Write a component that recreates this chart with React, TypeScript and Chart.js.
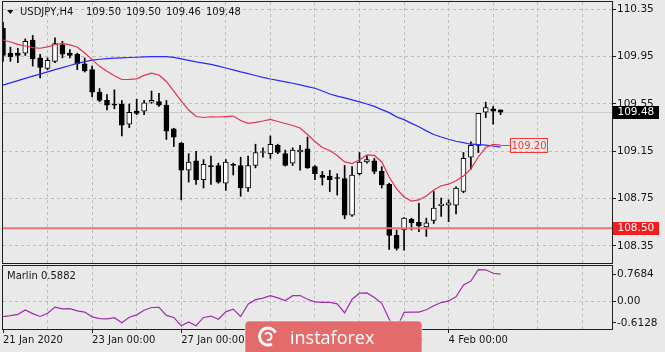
import { useEffect, useRef } from 'react';
import { Chart, registerables } from 'chart.js';
Chart.register(...registerables);

// ---------- data ----------
const symbolTitle = 'USDJPY,H4';
const titleQuote = ['109.50', '109.50', '109.46', '109.48'];
const indicatorTitle = 'Marlin 0.5882';

// bar slots: 68 H4 bars + empty future space on the right
const slotLabels = Array.from({ length: 83 }, (_, i) => String(i));
const barsPerDay = 6;
const timeLabelIdx = [0, 12, 24, 36, 48, 60];
const timeLabelText = ['21 Jan 2020', '23 Jan 00:00', '27 Jan 00:00', '29 Jan 00:00', '31 Jan 00:00', '4 Feb 00:00'];

const opens = [110.19, 109.98, 109.98, 109.98, 110.09, 109.94, 109.85, 109.91, 110.05, 109.98,
  109.97, 109.89, 109.84, 109.65, 109.58, 109.545, 109.55, 109.38, 109.49, 109.49,
  109.565, 109.57, 109.54, 109.34, 109.22, 108.99, 109.07, 108.91, 109.03, 109.03,
  108.88, 109.04, 109.03, 108.84, 109.03, 109.14, 109.13, 109.20, 109.13, 109.05,
  109.145, 109.17, 109.02, 108.95, 108.94, 108.925, 108.92, 108.61, 108.96, 109.06,
  109.07, 108.98, 108.87, 108.44, 108.485, 108.575, 108.55, 108.51, 108.565, 108.69,
  108.695, 108.695, 108.81, 109.10, 109.20, 109.48, 109.51, 109.50];
const highs = [110.24, 110.03, 110.02, 110.10, 110.13, 109.97, 109.94, 110.11, 110.08, 110.01,
  109.98, 109.94, 109.87, 109.68, 109.63, 109.67, 109.58, 109.55, 109.59, 109.58,
  109.66, 109.64, 109.58, 109.345, 109.225, 109.13, 109.15, 109.08, 109.11, 109.05,
  109.08, 109.05, 109.10, 109.11, 109.21, 109.18, 109.28, 109.21, 109.16, 109.18,
  109.20, 109.27, 109.03, 108.98, 108.99, 108.96, 109.03, 109.02, 109.14, 109.11,
  109.09, 109.02, 108.88, 108.485, 108.59, 108.585, 108.71, 108.585, 108.81, 108.755,
  108.74, 108.85, 109.14, 109.23, 109.47, 109.565, 109.53, 109.50];
const lows = [109.91, 109.91, 109.90, 109.96, 109.87, 109.77, 109.84, 109.90, 109.94, 109.94,
  109.84, 109.82, 109.61, 109.57, 109.50, 109.51, 109.28, 109.35, 109.46, 109.46,
  109.555, 109.53, 109.25, 109.19, 108.74, 108.89, 108.87, 108.84, 108.87, 108.88,
  108.82, 108.95, 108.77, 108.81, 109.01, 109.10, 109.09, 109.13, 109.025, 109.03,
  108.99, 109.005, 108.91, 108.865, 108.81, 108.78, 108.58, 108.60, 108.95, 109.05,
  108.96, 108.84, 108.32, 108.315, 108.315, 108.485, 108.47, 108.43, 108.54, 108.60,
  108.555, 108.62, 108.80, 109.00, 109.14, 109.435, 109.38, 109.46];
const closes = [109.96, 109.95, 109.96, 110.08, 109.93, 109.86, 109.92, 110.06, 109.97, 109.96,
  109.89, 109.83, 109.65, 109.58, 109.54, 109.54, 109.37, 109.48, 109.47, 109.56,
  109.58, 109.54, 109.32, 109.27, 108.99, 109.06, 108.91, 109.04, 109.02, 108.89,
  109.06, 109.03, 108.84, 109.03, 109.14, 109.145, 109.21, 109.14, 109.03, 109.16,
  109.16, 109.01, 108.96, 108.93, 108.91, 108.92, 108.61, 108.95, 109.06, 109.08,
  108.98, 108.865, 108.44, 108.33, 108.585, 108.545, 108.52, 108.545, 108.67, 108.705,
  108.715, 108.84, 109.09, 109.20, 109.47, 109.52, 109.49, 109.48];

const maFast = [110.091, 110.074, 110.054, 110.040, 110.026, 110.021, 110.033, 110.051, 110.062, 110.049,
  110.032, 109.981, 109.925, 109.868, 109.827, 109.788, 109.757, 109.758, 109.763, 109.792,
  109.810, 109.795, 109.740, 109.658, 109.575, 109.499, 109.444, 109.436, 109.442, 109.440,
  109.444, 109.448, 109.410, 109.387, 109.394, 109.406, 109.419, 109.402, 109.385, 109.368,
  109.347, 109.292, 109.233, 109.182, 109.157, 109.115, 109.060, 109.047, 109.077, 109.119,
  109.115, 109.060, 108.933, 108.832, 108.764, 108.730, 108.739, 108.772, 108.823, 108.859,
  108.872, 108.901, 108.941, 109.001, 109.102, 109.182, 109.208, 109.203];
const maSlow = [109.710, 109.729, 109.748, 109.766, 109.785, 109.803, 109.822, 109.840, 109.857, 109.875,
  109.893, 109.908, 109.921, 109.928, 109.933, 109.938, 109.940, 109.943, 109.945, 109.948,
  109.950, 109.950, 109.950, 109.944, 109.931, 109.918, 109.906, 109.896, 109.885, 109.870,
  109.854, 109.838, 109.821, 109.806, 109.791, 109.775, 109.761, 109.749, 109.737, 109.725,
  109.711, 109.697, 109.683, 109.660, 109.634, 109.617, 109.601, 109.585, 109.568, 109.550,
  109.530, 109.502, 109.477, 109.441, 109.418, 109.386, 109.357, 109.323, 109.292, 109.271,
  109.252, 109.235, 109.223, 109.210, 109.207, 109.203, 109.195, 109.186];
const marlin = [-0.340, -0.320, -0.292, -0.197, -0.276, -0.338, -0.267, -0.133, -0.170, -0.166,
  -0.217, -0.241, -0.347, -0.385, -0.391, -0.365, -0.475, -0.354, -0.303, -0.203,
  -0.141, -0.139, -0.314, -0.360, -0.541, -0.457, -0.541, -0.360, -0.329, -0.398,
  -0.236, -0.177, -0.338, -0.069, 0.031, 0.064, 0.119, 0.069, 0.011, 0.117,
  0.122, 0.038, -0.018, -0.031, -0.031, -0.060, -0.259, 0.040, 0.172, 0.177,
  0.077, -0.049, -0.400, -0.600, -0.248, -0.243, -0.243, -0.192, -0.104, -0.033,
  0.002, 0.095, 0.351, 0.440, 0.690, 0.685, 0.610, 0.5882];

const priceTicks = [108.35, 108.75, 109.15, 109.55, 109.95, 110.35];
const priceMin = 108.206;
const priceMax = 110.412;
const bidPrice = 109.48;
const levelPrice = 108.50;
const maLabelPrice = 109.20;

const indMin = -0.6128;
const indMax = 0.7684;
const indTickLabels = ['-0.6128', '0.00', '0.7684'];

// ---------- style ----------
const BG = '#e9e9e9';
const GRID = '#bdbdbd';
const AXIS = '#1e1e1e';
const TXT = '#161616';
const FONT = '"DejaVu Sans", sans-serif';
const CLEAR = 'rgba(0,0,0,0)';

const vGrid = (c: any) => (c.index > 0 && c.index % barsPerDay === 0 ? GRID : CLEAR);

function drawPriceBox(ctx: CanvasRenderingContext2D, y: number, text: string, bg: string) {
  ctx.save();
  ctx.fillStyle = bg;
  ctx.fillRect(613, Math.round(y) - 6, 46, 13);
  ctx.fillStyle = '#ffffff';
  ctx.font = `10.5px ${FONT}`;
  ctx.textBaseline = 'middle';
  ctx.textAlign = 'left';
  ctx.fillText(text, 617.5, Math.round(y) + 0.5);
  ctx.restore();
}

const mainDecor = {
  id: 'mainDecor',
  beforeDatasetsDraw(chart: any) {
    const { ctx, chartArea: a, scales } = chart;
    const yb = Math.round(scales.y.getPixelForValue(bidPrice)) + 0.5;
    ctx.save();
    ctx.strokeStyle = '#c9c9c9';
    ctx.lineWidth = 1;
    ctx.beginPath();
    ctx.moveTo(a.left, yb);
    ctx.lineTo(a.right, yb);
    ctx.stroke();
    ctx.restore();
  },
  afterDatasetsDraw(chart: any) {
    const { ctx, chartArea: a, scales } = chart;
    const yl = scales.y.getPixelForValue(levelPrice);
    ctx.save();
    ctx.strokeStyle = '#f27272';
    ctx.lineWidth = 2;
    ctx.beginPath();
    ctx.moveTo(a.left, yl);
    ctx.lineTo(a.right, yl);
    ctx.stroke();
    // MA price label
    const xe = scales.x.getPixelForValue(maFast.length - 1);
    const ym = Math.round(scales.y.getPixelForValue(maLabelPrice)) + 0.5;
    ctx.strokeStyle = '#f03a3a';
    ctx.lineWidth = 1;
    ctx.beginPath();
    ctx.moveTo(xe, ym);
    ctx.lineTo(511, ym);
    ctx.stroke();
    ctx.strokeRect(510.5, ym - 7, 37, 14);
    ctx.fillStyle = '#f03a3a';
    ctx.font = `10px ${FONT}`;
    ctx.textBaseline = 'middle';
    ctx.textAlign = 'center';
    ctx.fillText(maLabelPrice.toFixed(2), 529, ym + 0.5);
    ctx.restore();
  },
  afterDraw(chart: any) {
    const { ctx, chartArea: a, scales } = chart;
    ctx.save();
    ctx.strokeStyle = AXIS;
    ctx.lineWidth = 1;
    ctx.strokeRect(a.left - 0.5, a.top - 0.5, a.right - a.left + 1, a.bottom - a.top + 1);
    // title
    ctx.fillStyle = TXT;
    ctx.beginPath();
    ctx.moveTo(7, 10);
    ctx.lineTo(13.5, 10);
    ctx.lineTo(10.25, 14);
    ctx.closePath();
    ctx.fill();
    ctx.font = `10px ${FONT}`;
    ctx.textBaseline = 'middle';
    ctx.textAlign = 'left';
    ctx.fillText(symbolTitle, 20, 12.5);
    let x = 86;
    for (const q of titleQuote) {
      ctx.fillText(q, x, 12.5);
      x += ctx.measureText(q).width + 5;
    }
    ctx.restore();
    drawPriceBox(ctx, scales.y.getPixelForValue(bidPrice), bidPrice.toFixed(2), '#000000');
    drawPriceBox(ctx, scales.y.getPixelForValue(levelPrice), levelPrice.toFixed(2), '#f21d1d');
  },
};

const indDecor = {
  id: 'indDecor',
  afterDraw(chart: any) {
    const { ctx, chartArea: a } = chart;
    ctx.save();
    ctx.strokeStyle = AXIS;
    ctx.lineWidth = 1;
    ctx.strokeRect(a.left - 0.5, a.top - 0.5, a.right - a.left + 1, a.bottom - a.top + 1);
    ctx.fillStyle = TXT;
    ctx.font = `10px ${FONT}`;
    ctx.textBaseline = 'middle';
    ctx.textAlign = 'left';
    ctx.fillText(indicatorTitle, 7, 12.5);
    // watermark
    ctx.fillStyle = '#e46b6b';
    ctx.beginPath();
    (ctx as any).roundRect(245, 57, 177, 34, 4);
    ctx.fill();
    ctx.strokeStyle = 'rgba(255,255,255,0.5)';
    ctx.stroke();
    ctx.strokeStyle = '#ffffff';
    ctx.lineWidth = 3;
    ctx.beginPath();
    ctx.arc(268, 72.5, 8.5, 0.35 * Math.PI, 1.85 * Math.PI);
    ctx.stroke();
    ctx.lineWidth = 2;
    ctx.beginPath();
    ctx.arc(268, 72.5, 3.5, 1.2 * Math.PI, 2.6 * Math.PI);
    ctx.stroke();
    ctx.fillStyle = '#ffffff';
    ctx.font = `18px "Open Sans", sans-serif`;
    ctx.textBaseline = 'alphabetic';
    ctx.fillText('instaforex', 290, 79.5);
    ctx.restore();
  },
};

export default function App() {
  const mainRef = useRef<HTMLCanvasElement>(null);
  const indRef = useRef<HTMLCanvasElement>(null);

  useEffect(() => {
    const bodyColors = opens.map((o, i) => (closes[i] > o ? '#ffffff' : '#000000'));
    const main = new Chart(mainRef.current as HTMLCanvasElement, {
      type: 'bar',
      data: {
        labels: slotLabels,
        datasets: [
          {
            type: 'line', data: maFast, borderColor: '#e2334f', borderWidth: 1.2,
            pointRadius: 0, tension: 0, order: 0,
          } as any,
          {
            type: 'line', data: maSlow, borderColor: '#2a2af2', borderWidth: 1.2,
            pointRadius: 0, tension: 0, order: 1,
          } as any,
          {
            type: 'bar', data: opens.map((o, i) => [o, closes[i]]), backgroundColor: bodyColors,
            borderColor: '#000000', borderWidth: 1, borderSkipped: false, barThickness: 5,
            minBarLength: 1, grouped: false, order: 2,
          } as any,
          {
            type: 'bar', data: lows.map((l, i) => [l, highs[i]]), backgroundColor: '#000000',
            borderWidth: 0, barThickness: 1, grouped: false, order: 3,
          } as any,
        ],
      },
      options: {
        animation: false,
        responsive: false,
        maintainAspectRatio: false,
        layout: { padding: { left: 3, top: 2, right: 0, bottom: 1 } },
        plugins: { legend: { display: false }, tooltip: { enabled: false } },
        scales: {
          x: {
            type: 'category', offset: false,
            grid: { offset: false, color: vGrid, drawTicks: false, lineWidth: 1 },
            border: { display: false, dash: [3, 3] },
            ticks: { display: false, autoSkip: false },
            afterFit: (s: any) => { s.height = 0; s.paddingLeft = 0; s.paddingRight = 0; },
          },
          y: {
            type: 'linear', position: 'right', min: priceMin, max: priceMax,
            afterBuildTicks: (s: any) => { s.ticks = priceTicks.map((v) => ({ value: v })); },
            grid: { color: GRID, tickColor: AXIS, tickLength: 4, lineWidth: 1 },
            border: { display: false, dash: [3, 3] },
            ticks: {
              padding: 1, color: TXT, font: { family: 'DejaVu Sans', size: 10.5 },
              callback: (v: any) => Number(v).toFixed(2),
            },
            afterFit: (s: any) => { s.width = 53; s.paddingTop = 0; s.paddingBottom = 0; },
          },
        },
      },
      plugins: [mainDecor],
    });

    const ind = new Chart(indRef.current as HTMLCanvasElement, {
      type: 'line',
      data: {
        labels: slotLabels,
        datasets: [{ data: marlin, borderColor: '#a12dae', borderWidth: 1.2, pointRadius: 0, tension: 0 }],
      },
      options: {
        animation: false,
        responsive: false,
        maintainAspectRatio: false,
        layout: { padding: { left: 3, top: 2, right: 0, bottom: 0 } },
        plugins: { legend: { display: false }, tooltip: { enabled: false } },
        scales: {
          x: {
            type: 'category', offset: false,
            grid: {
              offset: false, color: vGrid, drawTicks: true, tickLength: 4,
              tickColor: (c: any) => (timeLabelIdx.includes(c.index) ? AXIS : CLEAR),
            },
            border: { display: false, dash: [3, 3] },
            ticks: {
              autoSkip: false, maxRotation: 0, minRotation: 0, align: 'start', padding: 1,
              color: TXT, font: { family: 'DejaVu Sans', size: 10 },
              callback: (_v: any, i: number) => {
                const k = timeLabelIdx.indexOf(i);
                return k >= 0 ? timeLabelText[k] : '';
              },
            },
            afterFit: (s: any) => { s.height = 23; s.paddingLeft = 0; s.paddingRight = 0; },
          },
          y: {
            type: 'linear', position: 'right', min: indMin, max: indMax,
            afterBuildTicks: (s: any) => {
              const span = indMax - indMin;
              s.ticks = [{ value: indMin + span * 0.096 }, { value: 0 }, { value: indMax - span * 0.136 }];
            },
            grid: {
              color: (c: any) => (c.tick && c.tick.value === 0 ? GRID : CLEAR),
              tickColor: AXIS, tickLength: 4,
            },
            border: { display: false, dash: [3, 3] },
            ticks: {
              padding: 1, color: TXT, font: { family: 'DejaVu Sans', size: 10.5 },
              callback: (_v: any, i: number) => indTickLabels[i],
            },
            afterFit: (s: any) => { s.width = 53; s.paddingTop = 0; s.paddingBottom = 0; },
          },
        },
      },
      plugins: [indDecor],
    });

    return () => {
      main.destroy();
      ind.destroy();
    };
  }, []);

  return (
    <div style={{ position: 'fixed', left: 0, top: 0, width: 665, height: 352, background: BG, overflow: 'hidden' }}>
      <canvas ref={mainRef} width={665} height={264}
        style={{ position: 'absolute', left: 0, top: 0, width: 665, height: 264 }} />
      <canvas ref={indRef} width={665} height={88}
        style={{ position: 'absolute', left: 0, top: 264, width: 665, height: 88 }} />
    </div>
  );
}
